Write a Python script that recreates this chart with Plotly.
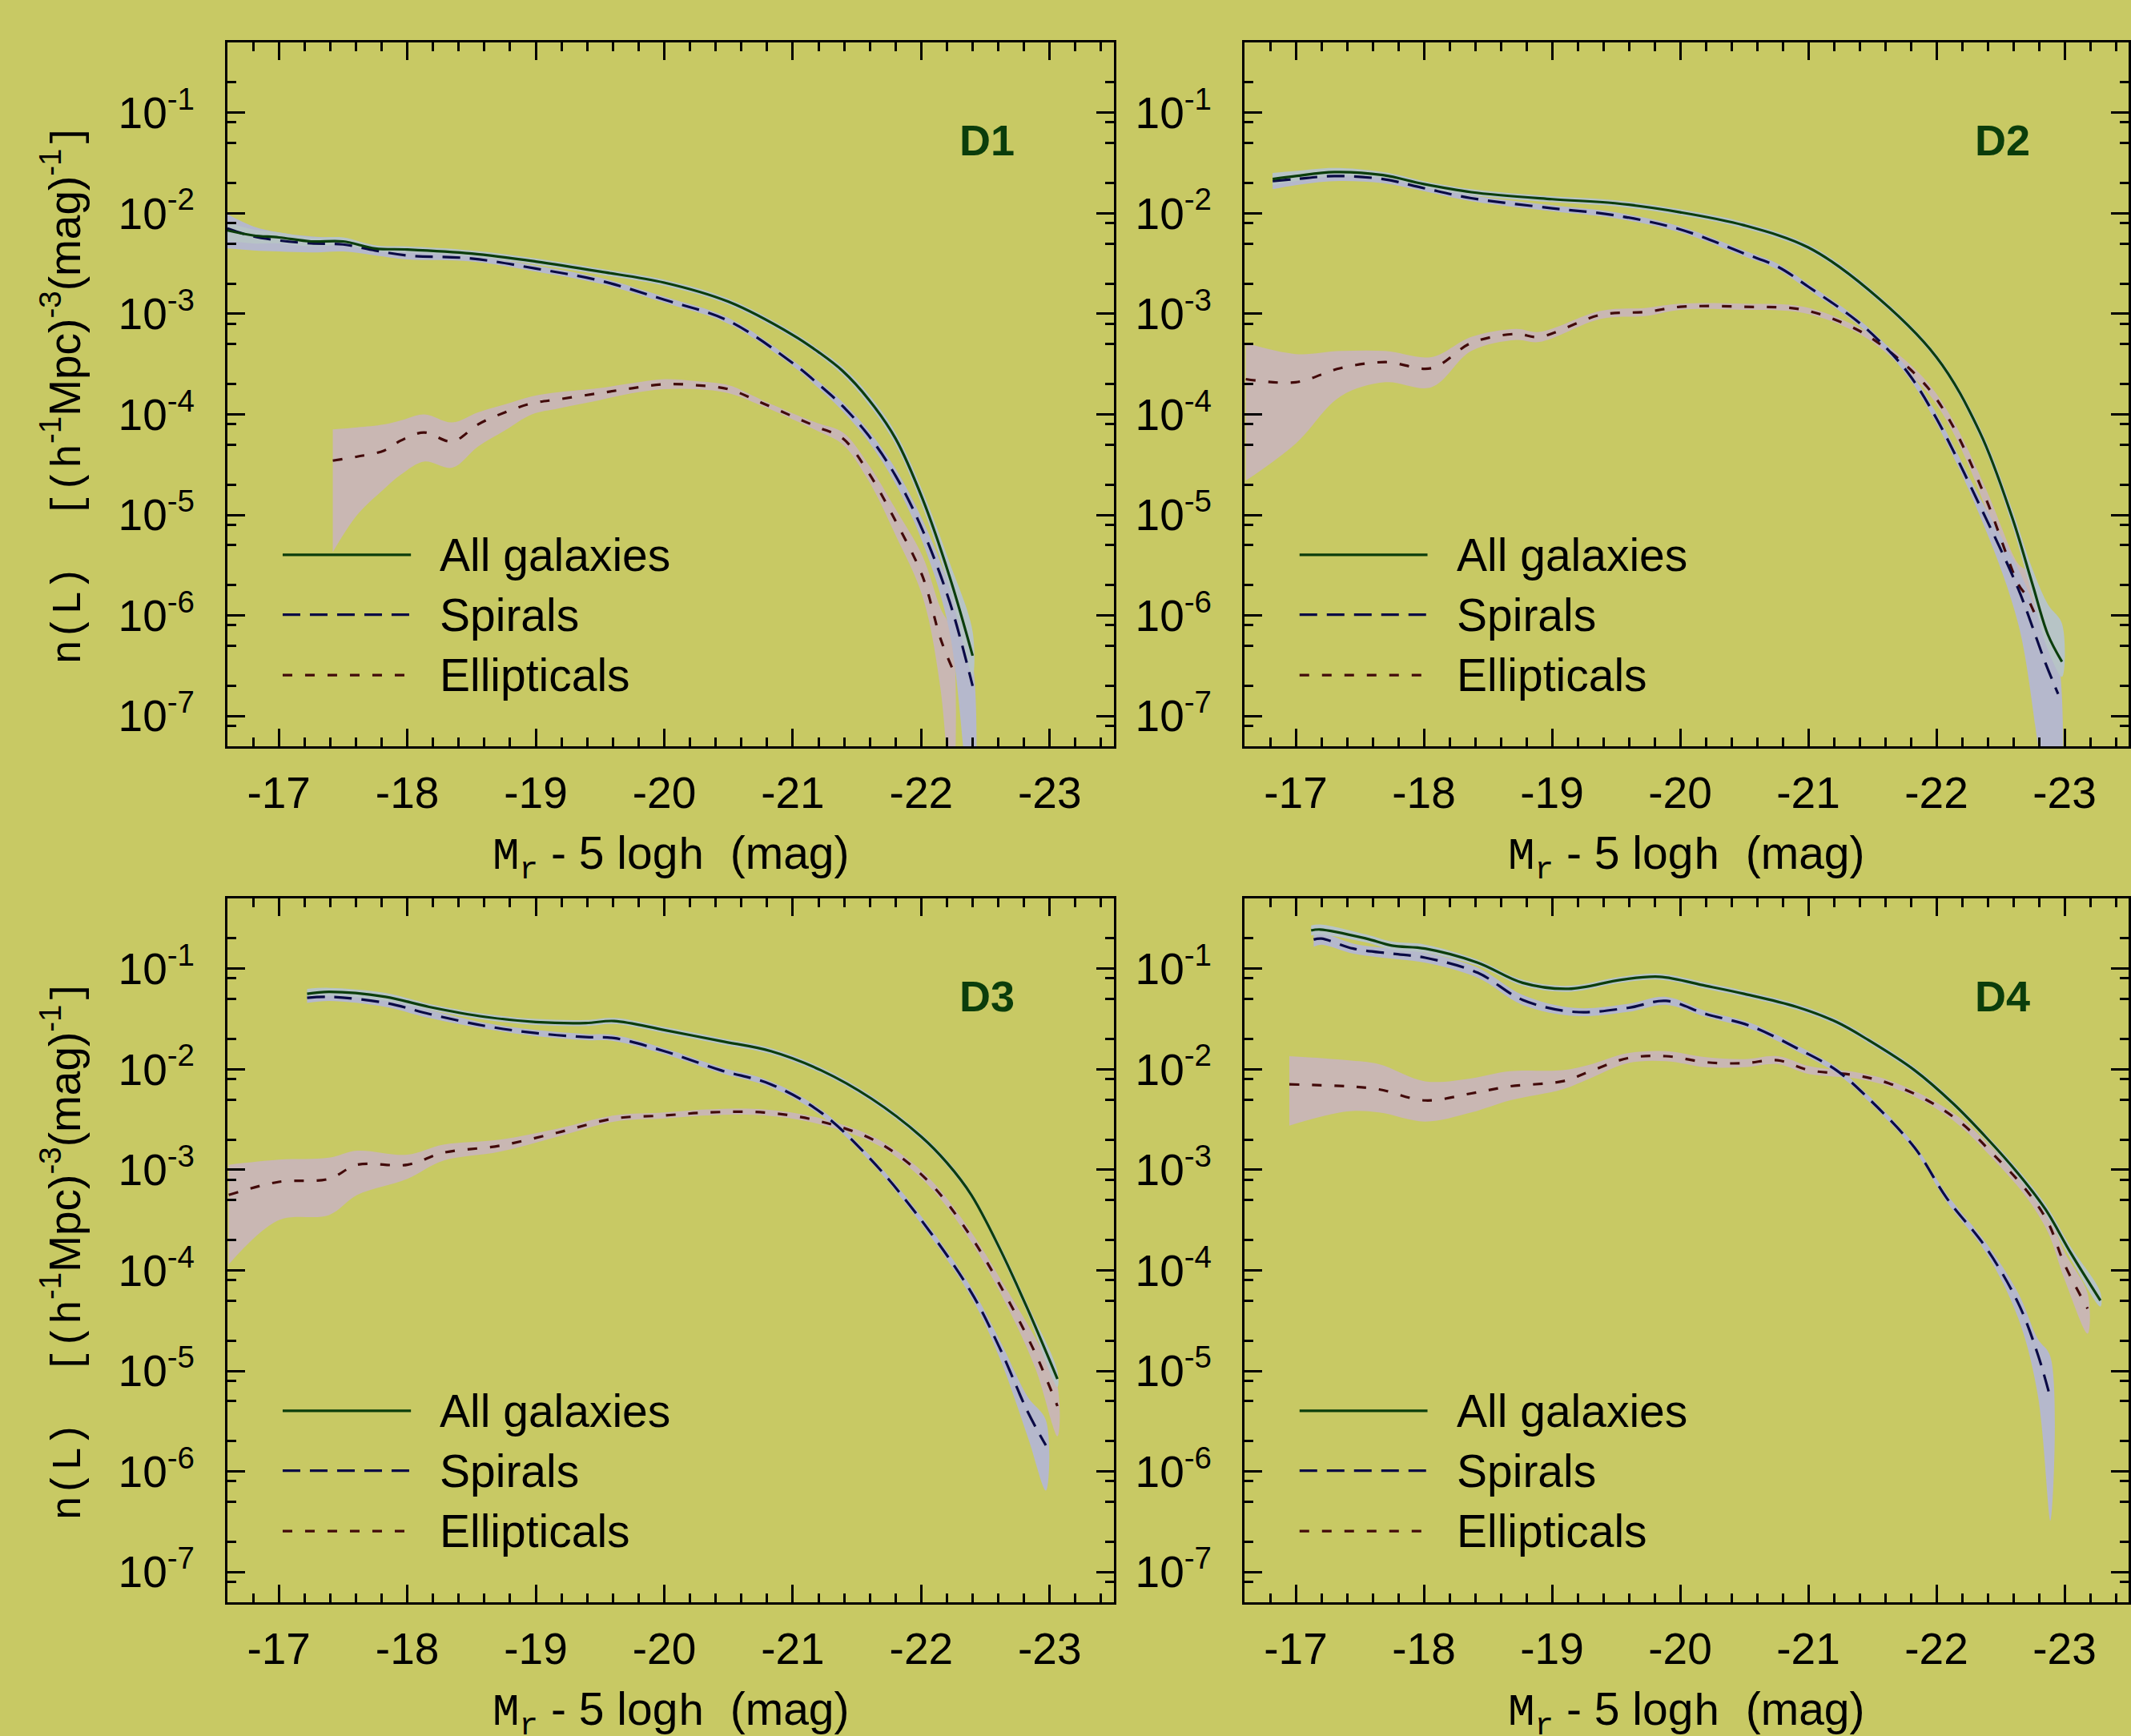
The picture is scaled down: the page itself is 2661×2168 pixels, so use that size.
import numpy as np
import plotly.graph_objects as go

# ---------------- data (log10 n, band half-widths in dex) ----------------
# D1
D1_all_M = [-16.6, -16.8, -17.0, -17.25, -17.5, -17.75, -18.0, -18.5, -19.0, -19.5, -20.0, -20.5, -21.0, -21.2, -21.39, -21.59, -21.8, -22.01, -22.22, -22.4]
D1_all = [-2.17, -2.22, -2.24, -2.28, -2.28, -2.35, -2.36, -2.40, -2.48, -2.58, -2.69, -2.88, -3.21, -3.38, -3.57, -3.85, -4.24, -4.84, -5.61, -6.40]
D1_all_up = [0.08, 0.06, 0.05, 0.04, 0.04, 0.03, 0.03, 0.03, 0.03, 0.03, 0.03, 0.03, 0.03, 0.03, 0.04, 0.05, 0.06, 0.08, 0.14, 0.24]
D1_all_dn = [0.10, 0.08, 0.06, 0.05, 0.04, 0.03, 0.03, 0.03, 0.03, 0.03, 0.03, 0.03, 0.03, 0.03, 0.04, 0.05, 0.06, 0.08, 0.12, 0.20]
D1_sp_M = D1_all_M
D1_sp = [-2.15, -2.23, -2.27, -2.30, -2.31, -2.37, -2.42, -2.45, -2.55, -2.67, -2.86, -3.07, -3.49, -3.70, -3.92, -4.21, -4.61, -5.15, -5.86, -6.70]
D1_sp_up = [0.14, 0.10, 0.08, 0.07, 0.06, 0.05, 0.04, 0.03, 0.03, 0.03, 0.03, 0.03, 0.03, 0.03, 0.04, 0.05, 0.07, 0.10, 0.15, 0.25]
D1_sp_dn = [0.20, 0.14, 0.11, 0.09, 0.07, 0.05, 0.04, 0.03, 0.03, 0.03, 0.03, 0.03, 0.03, 0.04, 0.05, 0.06, 0.08, 0.12, 0.30, 1.50]
D1_el_M = [-17.42, -17.61, -17.82, -17.95, -18.13, -18.35, -18.55, -18.76, -18.97, -19.18, -19.49, -19.75, -20.0, -20.25, -20.5, -20.75, -21.0, -21.2, -21.39, -21.59, -21.8, -22.01, -22.15, -22.24]
D1_el = [-4.46, -4.42, -4.36, -4.26, -4.18, -4.27, -4.10, -3.98, -3.89, -3.85, -3.79, -3.74, -3.70, -3.71, -3.75, -3.88, -4.02, -4.13, -4.24, -4.58, -5.06, -5.61, -6.23, -6.52]
D1_el_up = [0.31, 0.29, 0.26, 0.20, 0.18, 0.19, 0.12, 0.08, 0.07, 0.07, 0.05, 0.05, 0.05, 0.04, 0.04, 0.03, 0.03, 0.04, 0.06, 0.08, 0.12, 0.20, 0.30, 0.35]
D1_el_dn = [0.91, 0.58, 0.38, 0.34, 0.29, 0.26, 0.22, 0.18, 0.11, 0.09, 0.07, 0.05, 0.05, 0.04, 0.04, 0.03, 0.03, 0.04, 0.06, 0.08, 0.14, 0.20, 0.50, 1.50]

# D2
D2_all_M = [-16.82, -17.0, -17.3, -17.68, -18.0, -18.37, -19.0, -19.49, -20.0, -20.5, -21.0, -21.47, -22.0, -22.34, -22.59, -22.75, -22.87, -22.98]
D2_all = [-1.66, -1.63, -1.59, -1.62, -1.71, -1.79, -1.86, -1.90, -1.99, -2.12, -2.34, -2.76, -3.43, -4.18, -5.02, -5.69, -6.19, -6.46]
D2_all_up = [0.06, 0.05, 0.04, 0.03, 0.03, 0.03, 0.03, 0.03, 0.03, 0.03, 0.03, 0.03, 0.03, 0.05, 0.08, 0.15, 0.30, 0.38]
D2_all_dn = [0.06, 0.05, 0.04, 0.03, 0.03, 0.03, 0.03, 0.03, 0.03, 0.03, 0.03, 0.03, 0.03, 0.05, 0.08, 0.12, 0.15, 0.15]
D2_sp_M = [-16.82, -17.0, -17.3, -17.68, -18.0, -18.37, -19.0, -19.49, -20.0, -20.5, -20.76, -21.0, -21.37, -21.57, -21.78, -22.0, -22.34, -22.64, -22.85, -22.95]
D2_sp = [-1.68, -1.66, -1.63, -1.66, -1.75, -1.85, -1.95, -2.02, -2.16, -2.40, -2.53, -2.73, -3.06, -3.29, -3.59, -4.04, -4.91, -5.74, -6.47, -6.78]
D2_sp_up = [0.08, 0.06, 0.05, 0.04, 0.03, 0.03, 0.03, 0.03, 0.03, 0.03, 0.03, 0.03, 0.03, 0.03, 0.04, 0.05, 0.08, 0.20, 0.30, 0.35]
D2_sp_dn = [0.08, 0.06, 0.05, 0.04, 0.03, 0.03, 0.03, 0.03, 0.03, 0.03, 0.03, 0.03, 0.03, 0.03, 0.04, 0.05, 0.10, 0.35, 1.20, 1.20]
D2_el_M = [-16.61, -17.0, -17.35, -17.7, -18.06, -18.37, -18.72, -18.9, -19.38, -19.74, -20.0, -20.5, -20.96, -21.37, -21.63, -21.93, -22.13, -22.39, -22.64, -22.7, -22.77]
D2_el = [-3.65, -3.68, -3.54, -3.48, -3.54, -3.29, -3.20, -3.23, -3.01, -2.98, -2.93, -2.93, -2.96, -3.15, -3.37, -3.73, -4.12, -4.85, -5.69, -5.80, -5.99]
D2_el_up = [0.36, 0.28, 0.17, 0.11, 0.11, 0.06, 0.05, 0.05, 0.04, 0.04, 0.03, 0.03, 0.03, 0.03, 0.04, 0.05, 0.06, 0.10, 0.20, 0.25, 0.30]
D2_el_dn = [1.01, 0.61, 0.28, 0.20, 0.19, 0.08, 0.06, 0.05, 0.04, 0.04, 0.03, 0.03, 0.03, 0.03, 0.04, 0.05, 0.06, 0.10, 0.25, 0.30, 0.40]

# D3
D3_all_M = [-17.22, -17.39, -17.83, -18.17, -18.61, -19.0, -19.39, -19.61, -20.0, -20.44, -20.83, -21.22, -21.61, -22.0, -22.2, -22.39, -22.61, -22.83, -23.06]
D3_all = [-1.25, -1.23, -1.28, -1.38, -1.48, -1.53, -1.54, -1.52, -1.61, -1.72, -1.82, -2.01, -2.29, -2.67, -2.93, -3.25, -3.78, -4.39, -5.08]
D3_all_up = [0.05, 0.04, 0.04, 0.03, 0.03, 0.03, 0.03, 0.03, 0.03, 0.03, 0.03, 0.03, 0.03, 0.03, 0.03, 0.03, 0.04, 0.05, 0.08]
D3_all_dn = [0.05, 0.04, 0.04, 0.03, 0.03, 0.03, 0.03, 0.03, 0.03, 0.03, 0.03, 0.03, 0.03, 0.03, 0.03, 0.03, 0.04, 0.05, 0.08]
D3_sp_M = [-17.22, -17.39, -17.83, -18.17, -18.61, -19.0, -19.39, -19.61, -20.0, -20.44, -20.83, -21.22, -21.61, -22.0, -22.39, -22.61, -22.83, -22.97]
D3_sp = [-1.29, -1.28, -1.34, -1.45, -1.57, -1.64, -1.68, -1.69, -1.82, -2.01, -2.15, -2.43, -2.90, -3.50, -4.22, -4.77, -5.41, -5.74]
D3_sp_up = [0.05, 0.04, 0.04, 0.04, 0.03, 0.03, 0.03, 0.03, 0.03, 0.03, 0.03, 0.03, 0.03, 0.04, 0.05, 0.08, 0.15, 0.25]
D3_sp_dn = [0.05, 0.04, 0.04, 0.04, 0.03, 0.03, 0.03, 0.03, 0.03, 0.03, 0.03, 0.03, 0.03, 0.04, 0.05, 0.10, 0.25, 0.45]
D3_el_M = [-16.61, -17.0, -17.39, -17.61, -18.0, -18.28, -18.72, -19.17, -19.61, -20.0, -20.33, -20.78, -21.22, -21.67, -22.06, -22.39, -22.67, -22.89, -23.06]
D3_el = [-3.25, -3.12, -3.09, -2.95, -2.95, -2.83, -2.76, -2.63, -2.49, -2.46, -2.43, -2.43, -2.52, -2.73, -3.12, -3.67, -4.28, -4.83, -5.35]
D3_el_up = [0.30, 0.22, 0.21, 0.14, 0.10, 0.08, 0.06, 0.04, 0.03, 0.03, 0.03, 0.03, 0.03, 0.03, 0.04, 0.05, 0.08, 0.15, 0.20]
D3_el_dn = [0.69, 0.38, 0.36, 0.30, 0.14, 0.08, 0.06, 0.04, 0.03, 0.03, 0.03, 0.03, 0.03, 0.03, 0.04, 0.05, 0.08, 0.15, 0.30]

# D4
D4_all_M = [-17.12, -17.19, -17.55, -17.75, -18.01, -18.42, -18.77, -19.13, -19.54, -19.84, -20.2, -20.5, -20.91, -21.22, -21.47, -21.83, -22.13, -22.39, -22.64, -22.85, -23.05, -23.28]
D4_all = [-0.62, -0.61, -0.70, -0.77, -0.80, -0.94, -1.14, -1.20, -1.11, -1.08, -1.17, -1.25, -1.38, -1.53, -1.71, -2.01, -2.34, -2.68, -3.04, -3.39, -3.83, -4.30]
D4_all_up = [0.05, 0.05, 0.04, 0.04, 0.04, 0.03, 0.03, 0.03, 0.03, 0.03, 0.03, 0.03, 0.03, 0.03, 0.03, 0.03, 0.03, 0.03, 0.04, 0.05, 0.06, 0.08]
D4_all_dn = [0.05, 0.05, 0.04, 0.04, 0.04, 0.03, 0.03, 0.03, 0.03, 0.03, 0.03, 0.03, 0.03, 0.03, 0.03, 0.03, 0.03, 0.03, 0.04, 0.05, 0.06, 0.06]
D4_sp_M = [-17.14, -17.2, -17.45, -17.75, -18.01, -18.42, -18.77, -19.18, -19.59, -19.89, -20.2, -20.55, -20.91, -21.22, -21.47, -21.83, -22.08, -22.39, -22.64, -22.79, -22.89]
D4_sp = [-0.71, -0.70, -0.80, -0.85, -0.89, -1.04, -1.31, -1.43, -1.39, -1.32, -1.45, -1.57, -1.79, -2.01, -2.29, -2.78, -3.28, -3.78, -4.33, -4.83, -5.27]
D4_sp_up = [0.07, 0.06, 0.05, 0.05, 0.05, 0.05, 0.05, 0.04, 0.04, 0.04, 0.03, 0.03, 0.03, 0.03, 0.03, 0.03, 0.04, 0.05, 0.10, 0.15, 0.41]
D4_sp_dn = [0.07, 0.06, 0.05, 0.05, 0.05, 0.05, 0.05, 0.04, 0.04, 0.04, 0.03, 0.03, 0.03, 0.03, 0.03, 0.03, 0.04, 0.05, 0.15, 0.40, 1.22]
D4_el_M = [-16.95, -17.4, -17.65, -18.01, -18.37, -18.67, -19.08, -19.28, -19.59, -19.89, -20.2, -20.5, -20.76, -21.01, -21.37, -21.63, -21.93, -22.19, -22.44, -22.7, -22.87, -23.0, -23.18]
D4_el = [-2.15, -2.17, -2.20, -2.31, -2.24, -2.17, -2.12, -2.03, -1.89, -1.87, -1.93, -1.94, -1.91, -2.01, -2.06, -2.14, -2.31, -2.53, -2.84, -3.20, -3.52, -3.94, -4.38]
D4_el_up = [0.28, 0.26, 0.25, 0.19, 0.15, 0.15, 0.11, 0.07, 0.05, 0.05, 0.05, 0.04, 0.04, 0.04, 0.03, 0.03, 0.03, 0.04, 0.05, 0.06, 0.08, 0.12, 0.15]
D4_el_dn = [0.41, 0.25, 0.23, 0.21, 0.19, 0.14, 0.08, 0.07, 0.05, 0.05, 0.05, 0.04, 0.04, 0.04, 0.03, 0.03, 0.03, 0.04, 0.05, 0.07, 0.10, 0.15, 0.25]

PANEL_NAMES = ["D1", "D2", "D3", "D4"]
LEGEND_LABELS = ["All galaxies", "Spirals", "Ellipticals"]
X_TICKS = [-17, -18, -19, -20, -21, -22, -23]
Y_TICK_EXP = [-1, -2, -3, -4, -5, -6, -7]

# ---------------- style ----------------
BG = "#C8C964"
C_ALL, C_SP, C_EL = "#0B3D0B", "#0A0A45", "#420A0A"
B_ALL, B_SP, B_EL = "#B7C4C6", "#B5B8CC", "#C9B7B3"
DASH_SP, DASH_EL = "22px,12px", "12px,16px"
SANS = "Liberation Sans, Arial, Helvetica, sans-serif"
MONO_Y = "font-family:Liberation Mono;font-size:51px"
MONO_X = "font-family:Liberation Mono;font-size:56px"

W, H = 2661, 2168
XD = [[284 / W, 1391 / W], [1554 / W, 2658 / W]] * 2
YD = [[(H - 932) / H, (H - 53) / H]] * 2 + [[(H - 2001) / H, (H - 1122) / H]] * 2

panels = [
    (D1_all_M, D1_all, D1_all_up, D1_all_dn, D1_sp_M, D1_sp, D1_sp_up, D1_sp_dn, D1_el_M, D1_el, D1_el_up, D1_el_dn),
    (D2_all_M, D2_all, D2_all_up, D2_all_dn, D2_sp_M, D2_sp, D2_sp_up, D2_sp_dn, D2_el_M, D2_el, D2_el_up, D2_el_dn),
    (D3_all_M, D3_all, D3_all_up, D3_all_dn, D3_sp_M, D3_sp, D3_sp_up, D3_sp_dn, D3_el_M, D3_el, D3_el_up, D3_el_dn),
    (D4_all_M, D4_all, D4_all_up, D4_all_dn, D4_sp_M, D4_sp, D4_sp_up, D4_sp_dn, D4_el_M, D4_el, D4_el_up, D4_el_dn),
]

fig = go.Figure()
SMOOTH = 1.0


def band(M, lg, up, dn, xa, ya, color):
    M = np.asarray(M, float)
    lg = np.asarray(lg, float)
    hi = 10 ** (lg + np.asarray(up))
    lo = 10 ** (lg - np.asarray(dn))
    fig.add_trace(go.Scatter(
        x=np.concatenate([M, M[::-1]]), y=np.concatenate([hi, lo[::-1]]),
        mode="lines", fill="toself", fillcolor=color,
        line=dict(width=0, shape="spline", smoothing=SMOOTH),
        hoverinfo="skip", showlegend=False, xaxis=xa, yaxis=ya))


def curve(M, lg, xa, ya, color, dash):
    fig.add_trace(go.Scatter(
        x=M, y=10 ** np.asarray(lg, float), mode="lines",
        line=dict(color=color, width=3.2, dash=dash, shape="spline", smoothing=SMOOTH),
        showlegend=False, xaxis=xa, yaxis=ya))


ymin, ymax = np.log10(5e-8), np.log10(0.5)
minor_y = [m * 10.0 ** e for e in range(-8, 0) for m in (2, 5, 8)]
minor_y = [v for v in minor_y if 5e-8 <= v <= 0.5]
minor_x = [round(-16.6 - 0.2 * k, 1) for k in range(0, 35)]

annotations = []
shapes = []
layout_axes = {}
for i, p in enumerate(panels):
    n = i + 1
    xa = "x" if n == 1 else f"x{n}"
    ya = "y" if n == 1 else f"y{n}"
    (aM, a, aup, adn, sM, s, sup, sdn, eM, e, eup, edn) = p
    band(eM, e, eup, edn, xa, ya, B_EL)
    band(sM, s, sup, sdn, xa, ya, B_SP)
    band(aM, a, aup, adn, xa, ya, B_ALL)
    curve(eM, e, xa, ya, C_EL, DASH_EL)
    curve(sM, s, xa, ya, C_SP, DASH_SP)
    curve(aM, a, xa, ya, C_ALL, "solid")

    common = dict(showline=True, linecolor="black", linewidth=3, mirror="ticks",
                  ticks="inside", ticklen=22, tickwidth=3, tickcolor="black",
                  showgrid=False, zeroline=False,
                  tickfont=dict(family=SANS, size=55, color="black"))
    layout_axes["xaxis" if n == 1 else f"xaxis{n}"] = dict(
        common, domain=XD[i], anchor=ya, range=[-16.6, -23.5], autorange=False,
        tickmode="array", tickvals=X_TICKS, ticktext=[str(t) for t in X_TICKS],
        ticklabelstandoff=8,
        minor=dict(ticks="inside", ticklen=11, tickwidth=3, tickcolor="black",
                   tickmode="array", tickvals=minor_x, showgrid=False))
    layout_axes["yaxis" if n == 1 else f"yaxis{n}"] = dict(
        common, domain=YD[i], anchor=xa, type="log", range=[ymin, ymax], autorange=False,
        tickmode="array", tickvals=[10.0 ** k for k in Y_TICK_EXP],
        ticktext=[f"10<sup>{k}</sup>" for k in Y_TICK_EXP],
        ticklabelstandoff=27,
        minor=dict(ticks="inside", ticklen=11, tickwidth=3, tickcolor="black",
                   tickmode="array", tickvals=minor_y, showgrid=False))

    xd, yd = f"{xa} domain", f"{ya} domain"
    # panel label
    annotations.append(dict(text=f"<b>{PANEL_NAMES[i]}</b>", xref=xd, yref=yd, x=0.857, y=0.861,
                            xanchor="center", yanchor="middle", showarrow=False,
                            font=dict(family=SANS, size=54, color="#0B3D0B")))
    # legend (drawn inside panel)
    rows = [0.272, 0.187, 0.101]
    styles = [(C_ALL, "solid"), (C_SP, DASH_SP), (C_EL, DASH_EL)]
    for r, lab, (col, dsh) in zip(rows, LEGEND_LABELS, styles):
        shapes.append(dict(type="line", xref=xd, yref=yd, x0=0.0623, x1=0.207, y0=r, y1=r,
                           line=dict(color=col, width=3.2, dash=dsh)))
        annotations.append(dict(text=lab, xref=xd, yref=yd, x=0.238, y=r, xanchor="left",
                                yanchor="middle", showarrow=False,
                                font=dict(family=SANS, size=57, color="black")))
    # x title
    xc = (XD[i][0] + XD[i][1]) / 2
    ytitle_pos = (H - 1071) / H if n <= 2 else (H - 2140) / H
    annotations.append(dict(
        text=(f'<span style="{MONO_X}">M<sub>r</sub></span> - 5 log'
              f'<span style="{MONO_X}">h</span>\u00a0\u00a0(mag)'),
        xref="paper", yref="paper", x=xc, y=ytitle_pos, xanchor="center", yanchor="middle",
        showarrow=False, font=dict(family=SANS, size=57, color="black")))
    # y title (left column only)
    if n in (1, 3):
        yc = (YD[i][0] + YD[i][1]) / 2
        annotations.append(dict(
            text=(f'<span style="{MONO_Y}">n(L)\u00a0\u00a0[(h</span><sup>-1</sup>Mpc)'
                  f'<sup>-3</sup>(mag)<sup>-1</sup><span style="{MONO_Y}">]</span>'),
            xref="paper", yref="paper", x=78 / W, y=yc, xanchor="center", yanchor="middle",
            textangle=-90, showarrow=False, font=dict(family=SANS, size=55, color="black")))

fig.update_layout(
    width=W, height=H, margin=dict(l=0, r=0, t=0, b=0),
    paper_bgcolor=BG, plot_bgcolor=BG, showlegend=False,
    annotations=annotations, shapes=shapes, **layout_axes)

fig.write_html("out.html", include_plotlyjs=True, config={"displayModeBar": False},
               post_script="document.body.style.margin='0';document.body.style.overflow='hidden';")
